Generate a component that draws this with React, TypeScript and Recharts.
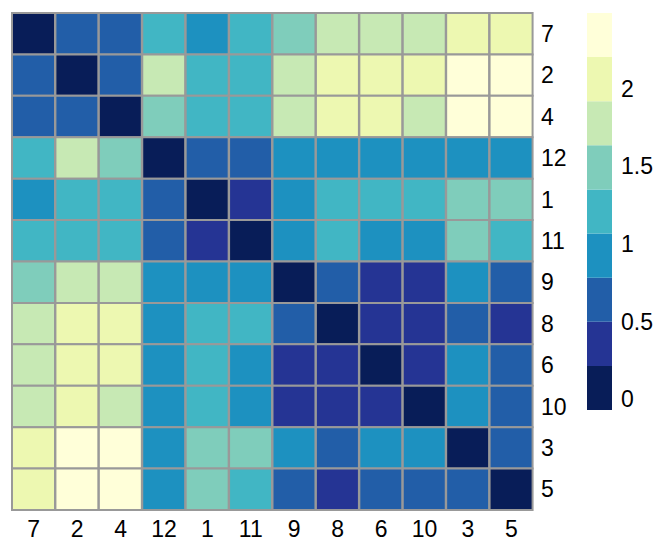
import { BarChart, Bar, Cell, XAxis, YAxis, ComposedChart, ReferenceArea } from 'recharts';

// row/column order of the clustered matrix
const labels = ['7', '2', '4', '12', '1', '11', '9', '8', '6', '10', '3', '5'];

// symmetric distance matrix, rows/cols in the order of `labels`
const distances = [
  [0, 0.62, 0.66, 1.22, 0.95, 1.25, 1.49, 1.81, 1.76, 1.84, 2.08, 2.12],
  [0.62, 0, 0.58, 1.8, 1.19, 1.27, 1.72, 2.03, 2.06, 2.1, 2.31, 2.38],
  [0.66, 0.58, 0, 1.52, 1.21, 1.17, 1.79, 2.01, 2.07, 1.86, 2.34, 2.4],
  [1.22, 1.8, 1.52, 0, 0.64, 0.71, 0.97, 0.91, 0.88, 0.94, 0.99, 0.87],
  [0.95, 1.19, 1.21, 0.64, 0, 0.38, 0.9, 1.15, 1.23, 1.18, 1.45, 1.41],
  [1.25, 1.27, 1.17, 0.71, 0.38, 0, 0.86, 1.12, 0.98, 1.02, 1.47, 1.24],
  [1.49, 1.72, 1.79, 0.97, 0.9, 0.86, 0, 0.6, 0.41, 0.44, 0.96, 0.68],
  [1.81, 2.03, 2.01, 0.91, 1.15, 1.12, 0.6, 0, 0.35, 0.39, 0.69, 0.43],
  [1.76, 2.06, 2.07, 0.88, 1.23, 0.98, 0.41, 0.35, 0, 0.37, 0.92, 0.63],
  [1.84, 2.1, 1.86, 0.94, 1.18, 1.02, 0.44, 0.39, 0.37, 0, 0.95, 0.65],
  [2.08, 2.31, 2.34, 0.99, 1.45, 1.47, 0.96, 0.69, 0.92, 0.95, 0, 0.66],
  [2.12, 2.38, 2.4, 0.87, 1.41, 1.24, 0.68, 0.43, 0.63, 0.65, 0.66, 0],
];

// colour bins (YlGnBu, 9 classes)
const breaks = [-0.07, 0.214, 0.498, 0.782, 1.066, 1.35, 1.634, 1.918, 2.202, 2.486];
const palette = ['#081d58', '#253494', '#225ea8', '#1d91c0', '#41b6c4', '#7fcdbb', '#c7e9b4', '#edf8b1', '#ffffd9'];
const legendTicks = [0, 0.5, 1, 1.5, 2];

function colorFor(v: number) {
  for (let i = 0; i < palette.length; i++) {
    if (v < breaks[i + 1]) return palette[i];
  }
  return palette[palette.length - 1];
}

const tickStyle = { fill: '#000', fontSize: 23, fontFamily: 'Liberation Sans, Arial, sans-serif' };

export default function App() {
  // one column per category, each row is a unit-high stacked segment
  const chartData = labels.map((lab) => {
    const row: Record<string, string | number> = { col: lab };
    labels.forEach((_, r) => {
      row[`r${r}`] = 1;
    });
    return row;
  });
  const rowTicks = labels.map((_, i) => i + 0.5);

  return (
    <div style={{ position: 'absolute', left: 0, top: 0, width: 664, height: 554, background: '#fff' }}>
      <div style={{ position: 'absolute', left: 0, top: 0 }}>
        <BarChart
          width={664}
          height={554}
          data={chartData}
          margin={{ top: 13, right: 81, bottom: 14, left: 12 }}
          barCategoryGap={0}
          barGap={0}
        >
          <XAxis
            dataKey="col"
            axisLine={false}
            tickLine={false}
            tick={tickStyle}
            tickMargin={5}
            interval={0}
            height={30}
          />
          <YAxis
            type="number"
            orientation="right"
            domain={[0, 12]}
            reversed
            ticks={rowTicks}
            tickFormatter={(v: number) => labels[Math.floor(v)]}
            axisLine={false}
            tickLine={false}
            tick={tickStyle}
            interval={0}
            width={50}
          />
          {labels.map((_, r) => (
            <Bar key={r} dataKey={`r${r}`} stackId="h" isAnimationActive={false} stroke="#999999" strokeWidth={2}>
              {labels.map((__, c) => (
                <Cell key={c} fill={colorFor(distances[r][c])} />
              ))}
            </Bar>
          ))}
        </BarChart>
      </div>
      <div style={{ position: 'absolute', left: 0, top: 0 }}>
        <ComposedChart width={664} height={554} data={[{ k: 'a' }]} margin={{ top: 13, right: 0, bottom: 144, left: 587 }}>
          <XAxis dataKey="k" hide />
          <YAxis
            type="number"
            orientation="right"
            domain={[breaks[0], breaks[breaks.length - 1]]}
            ticks={legendTicks}
            allowDataOverflow
            axisLine={false}
            tickLine={false}
            tick={tickStyle}
            interval={0}
            tickMargin={3}
            width={52}
          />
          {palette.map((col, i) => (
            <ReferenceArea key={i} y1={breaks[i]} y2={breaks[i + 1]} fill={col} fillOpacity={1} stroke="none" ifOverflow="visible" />
          ))}
        </ComposedChart>
      </div>
    </div>
  );
}
